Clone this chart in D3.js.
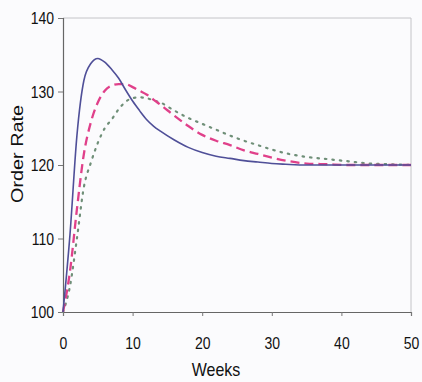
<!DOCTYPE html>
<html>
<head>
<meta charset="utf-8">
<script src="https://cdn.jsdelivr.net/npm/d3@7"></script>
<style>
  body { margin: 0; background: #fbfbfd; }
  svg { display: block; font-family: "Liberation Sans", Arial, sans-serif; }
</style>
</head>
<body>
<div id="chart"></div>
<script>
// weeks sampled along the x axis
var weeks = [0, 1, 2, 3, 4, 5, 6, 7, 8, 9, 10, 11, 12, 13, 14, 16, 18, 20, 22, 24, 26, 28, 30, 32, 35, 38, 41, 44, 47, 50];

// solid curve
var solidRate = [100, 110.5, 124, 131.5, 133.8, 134.5, 134, 133, 131.8, 130.2, 128.7, 127.4, 126.2, 125.3, 124.6, 123.4, 122.4, 121.7, 121.2, 120.9, 120.6, 120.4, 120.2, 120.1, 120, 120, 120, 120, 120, 120];
// dashed curve
var dashedRate = [100, 105.5, 114, 121.5, 125.8, 128.5, 130.1, 130.8, 131, 131, 130.6, 130.1, 129.6, 128.9, 128.2, 126.7, 125.3, 124.1, 123.3, 122.7, 122, 121.5, 121, 120.6, 120.2, 120.1, 120, 120, 120, 120];
// dotted curve
var dottedRate = [100, 103.5, 110, 117, 120.3, 123, 125, 126.2, 127.6, 128.6, 129.1, 129.2, 129.1, 128.8, 128.5, 127.4, 126.4, 125.6, 124.8, 124, 123.3, 122.7, 122.1, 121.6, 121.1, 120.8, 120.5, 120.2, 120.1, 120];

var xTicks = [0, 10, 20, 30, 40, 50];
var yTicks = [100, 110, 120, 130, 140];

var W = 422, H = 382;
var margin = { top: 18, right: 11, bottom: 70, left: 63 },
  width = W - margin.left - margin.right,
  height = H - margin.top - margin.bottom;

var svg = d3.select("#chart").append("svg")
  .attr("width", W)
  .attr("height", H);

var g = svg.append("g")
  .attr("transform", "translate(" + margin.left + "," + margin.top + ")");

var x = d3.scaleLinear().domain([0, 50]).range([0, width]);
var y = d3.scaleLinear().domain([100, 140]).range([height, 0]);

// light frame on top and right
g.append("line").attr("x1", 0).attr("x2", width).attr("y1", 0).attr("y2", 0)
  .attr("stroke", "#c4c4c8").attr("stroke-width", 1);
g.append("line").attr("x1", width).attr("x2", width).attr("y1", 0).attr("y2", height)
  .attr("stroke", "#c4c4c8").attr("stroke-width", 1);

// axes
var xAxis = g.append("g")
  .attr("transform", "translate(0," + height + ")")
  .call(d3.axisBottom(x).tickValues(xTicks).tickSize(4));
var yAxis = g.append("g")
  .call(d3.axisLeft(y).tickValues(yTicks).tickSize(5));

[xAxis, yAxis].forEach(function (a) {
  a.select(".domain").attr("stroke", "#666").attr("stroke-width", 1.2);
  a.selectAll(".tick line").attr("stroke", "#777");
  a.selectAll("text").attr("fill", "#111").style("font-size", "14px")
    .attr("x", 0).attr("y", 0);
});
// the printed labels look a little taller than wide
xAxis.selectAll(".tick text")
  .attr("dy", "0.35em")
  .attr("transform", "translate(0,31) scale(1,1.2)");
yAxis.selectAll(".tick text")
  .attr("dy", "0.35em")
  .attr("transform", "translate(-9,0) scale(1,1.2)");

var line = function (vals) {
  return d3.line()
    .x(function (d, i) { return x(weeks[i]); })
    .y(function (d) { return y(d); })
    .curve(d3.curveMonotoneX)(vals);
};

g.append("path").attr("d", line(dottedRate))
  .attr("fill", "none").attr("stroke", "#6f8f78").attr("stroke-width", 2.2)
  .attr("stroke-dasharray", "1.5,6").attr("stroke-linecap", "round");
g.append("path").attr("d", line(dashedRate))
  .attr("fill", "none").attr("stroke", "#e0408a").attr("stroke-width", 2.3)
  .attr("stroke-dasharray", "9,5");
g.append("path").attr("d", line(solidRate))
  .attr("fill", "none").attr("stroke", "#4f4f98").attr("stroke-width", 1.6);

// axis titles
svg.append("text")
  .attr("transform", "translate(17," + (margin.top + height / 2 - 11) + ") scale(1,1.2) rotate(-90)")
  .attr("text-anchor", "middle")
  .attr("dy", "0.35em")
  .style("font-size", "16.5px")
  .attr("fill", "#111")
  .text("Order Rate");

svg.append("text")
  .attr("transform", "translate(216,370) scale(1,1.15)")
  .attr("text-anchor", "middle")
  .attr("dy", "0.35em")
  .style("font-size", "16px")
  .attr("fill", "#111")
  .text("Weeks");
</script>
</body>
</html>
